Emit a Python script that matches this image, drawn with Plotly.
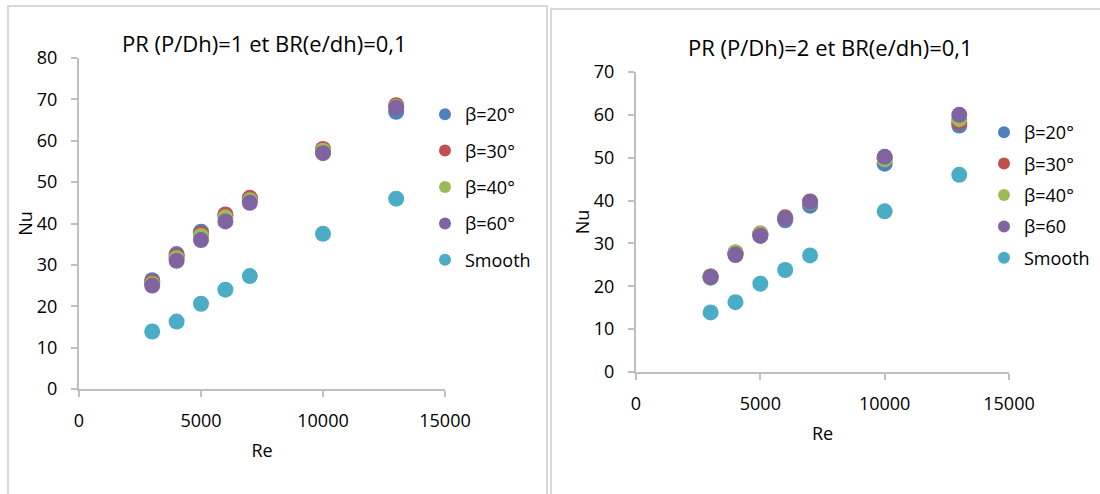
import plotly.graph_objects as go

W, H = 1100, 494

re_vals = [3000, 4000, 5000, 6000, 7000, 10000, 13000]

# Left chart: PR=1
left_b20 = [26.3, 32.6, 38.0, 42.0, 46.0, 57.5, 67.0]
left_b30 = [25.8, 32.1, 37.5, 42.2, 46.2, 58.0, 68.6]
left_b40 = [25.4, 31.6, 37.0, 41.5, 45.6, 57.6, 68.2]
left_b60 = [25.0, 31.0, 36.0, 40.5, 45.0, 57.0, 68.0]
left_smooth = [13.9, 16.3, 20.6, 24.0, 27.3, 37.5, 46.0]

# Right chart: PR=2
right_b20 = [22.0, 27.3, 31.8, 35.4, 38.8, 48.6, 57.5]
right_b30 = [22.3, 27.9, 32.3, 36.1, 39.8, 49.9, 58.3]
right_b40 = [22.3, 27.9, 32.2, 35.8, 39.6, 49.6, 59.0]
right_b60 = [22.2, 27.4, 31.8, 35.8, 39.7, 50.2, 60.0]
right_smooth = [13.9, 16.3, 20.6, 23.8, 27.2, 37.5, 46.0]

left_names = ["β=20°", "β=30°", "β=40°", "β=60°", "Smooth"]
right_names = ["β=20°", "β=30°", "β=40°", "β=60", "Smooth"]
colors = ["#4F81BD", "#C0504D", "#9BBB59", "#8064A2", "#4BACC6"]

titles = ["PR (P/Dh)=1 et BR(e/dh)=0,1", "PR (P/Dh)=2 et BR(e/dh)=0,1"]
x_ticks = [0, 5000, 10000, 15000]
x_tick_text = ["0", "5000", "10000", "15000"]
left_y_ticks = [0, 10, 20, 30, 40, 50, 60, 70, 80]
right_y_ticks = [0, 10, 20, 30, 40, 50, 60, 70]

FONT = "Open Sans"
TXT = "#000000"
AX = "#BFBFBF"

fig = go.Figure()

left_series = [left_b20, left_b30, left_b40, left_b60, left_smooth]
right_series = [right_b20, right_b30, right_b40, right_b60, right_smooth]

for i, (name, ys) in enumerate(zip(left_names, left_series)):
    fig.add_trace(go.Scatter(
        x=re_vals, y=ys, mode="markers", name=name,
        marker=dict(color=colors[i], size=16, line=dict(width=0)),
        xaxis="x", yaxis="y", legend="legend", legendgroup="L%d" % i,
    ))
for i, (name, ys) in enumerate(zip(right_names, right_series)):
    fig.add_trace(go.Scatter(
        x=re_vals, y=ys, mode="markers", name=name,
        marker=dict(color=colors[i], size=16, line=dict(width=0)),
        xaxis="x2", yaxis="y2", legend="legend2", legendgroup="R%d" % i,
    ))


def px_x(p):
    return p / W


def px_y(p):
    return 1 - p / H


axis_common = dict(
    showgrid=False, zeroline=False, showline=True, linecolor=AX, linewidth=2,
    ticks="outside", ticklen=6, tickwidth=2, tickcolor=AX,
    tickfont=dict(family=FONT, size=18, color=TXT),
    fixedrange=True, automargin=False,
)
title_font = dict(family=FONT, size=18, color=TXT)

fig.update_layout(
    template="none",
    width=W, height=H,
    margin=dict(l=0, r=0, t=0, b=0, autoexpand=False),
    paper_bgcolor="white", plot_bgcolor="white",
    font=dict(family=FONT, color=TXT),
    showlegend=True,
    xaxis=dict(domain=[px_x(79), px_x(445)], range=[0, 15000], tickvals=x_ticks,
               ticktext=x_tick_text, anchor="y", ticklabelstandoff=8,
               title=dict(text="Re", font=title_font, standoff=14),
               **axis_common),
    yaxis=dict(domain=[px_y(389), px_y(58)], range=[0, 80], tickvals=left_y_ticks,
               anchor="x", ticklabelstandoff=10,
               title=dict(text="Nu", font=title_font, standoff=0),
               **axis_common),
    xaxis2=dict(domain=[px_x(636), px_x(1009)], range=[0, 15000], tickvals=x_ticks,
                ticktext=x_tick_text, anchor="y2", ticklabelstandoff=8,
                title=dict(text="Re", font=title_font, standoff=14),
                **axis_common),
    yaxis2=dict(domain=[px_y(372), px_y(72)], range=[0, 70], tickvals=right_y_ticks,
                anchor="x2", ticklabelstandoff=10,
                title=dict(text="Nu", font=title_font, standoff=0),
                **axis_common),
    legend=dict(x=px_x(425), y=px_y(96), xanchor="left", yanchor="top",
                font=dict(family=FONT, size=18, color=TXT), bgcolor="rgba(0,0,0,0)",
                tracegroupgap=10, itemsizing="constant", borderwidth=0),
    legend2=dict(x=px_x(984), y=px_y(114), xanchor="left", yanchor="top",
                 font=dict(family=FONT, size=18, color=TXT), bgcolor="rgba(0,0,0,0)",
                 tracegroupgap=5, itemsizing="constant", borderwidth=0),
    annotations=[
        dict(text=titles[0], x=px_x(264), y=px_y(43), xref="paper", yref="paper",
             xanchor="center", yanchor="middle", showarrow=False,
             font=dict(family=FONT, size=22, color=TXT)),
        dict(text=titles[1], x=px_x(830), y=px_y(47), xref="paper", yref="paper",
             xanchor="center", yanchor="middle", showarrow=False,
             font=dict(family=FONT, size=22, color=TXT)),
    ],
    shapes=[
        dict(type="path", xref="paper", yref="paper",
             path="M %f,%f L %f,%f L %f,%f L %f,%f" % (
                 px_x(8), px_y(500), px_x(8), px_y(6), px_x(547), px_y(6), px_x(547), px_y(500)),
             line=dict(color="#D9D9D9", width=2)),
        dict(type="path", xref="paper", yref="paper",
             path="M %f,%f L %f,%f L %f,%f" % (
                 px_x(551), px_y(500), px_x(551), px_y(9), px_x(1110), px_y(9)),
             line=dict(color="#D9D9D9", width=2)),
    ],
)

fig.write_html("out.html")
